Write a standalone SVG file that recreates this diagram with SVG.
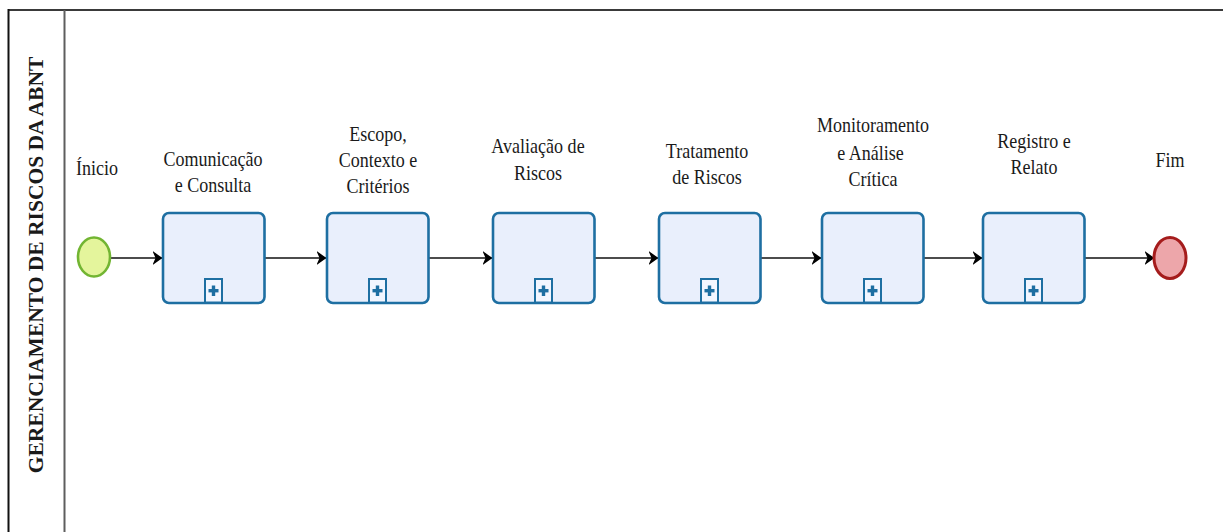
<svg xmlns="http://www.w3.org/2000/svg" width="1223" height="532" viewBox="0 0 1223 532">
  <style>
    .lbl { font-family: "Liberation Serif", "Times New Roman", serif; font-size: 22px; fill: #1a1a1a; text-anchor: middle; }
    .title { font-family: "Liberation Serif", "Times New Roman", serif; font-size: 21.5px; font-weight: bold; fill: #1a1a1a; text-anchor: middle; }
    .task { fill: #e9effc; stroke: #1e6fa2; stroke-width: 2.6; }
    .mk { fill: #f2f6ff; stroke: #1e6fa2; stroke-width: 2; }
    .plus { fill: #1e6fa2; }
    .flow { fill: none; stroke: #111; stroke-width: 1.6; marker-end: url(#arrow); }
  </style>
  <defs>
    <marker id="arrow" viewBox="0 0 10 14" refX="9.5" refY="7" markerWidth="10" markerHeight="14" markerUnits="userSpaceOnUse" orient="auto">
      <path d="M0,0 L10,7 L0,14 L3,7 Z" fill="#000"/>
    </marker>
    <g id="collapsed">
      <rect class="mk" x="-8.5" y="279" width="17" height="23.5"/>
      <rect class="plus" x="-1.7" y="285.5" width="3.4" height="10.5"/>
      <rect class="plus" x="-5" y="289" width="10" height="3.4"/>
    </g>
  </defs>

  <rect width="1223" height="532" fill="#ffffff"/>

  <!-- pool frame -->
  <g id="pool">
    <line x1="8" y1="10" x2="1223" y2="10" stroke="#3a3a3a" stroke-width="2"/>
    <line x1="8.5" y1="9" x2="8.5" y2="532" stroke="#111" stroke-width="2"/>
    <line x1="64.5" y1="10" x2="64.5" y2="532" stroke="#5e5e5e" stroke-width="2"/>
    <text class="title" transform="translate(43,265) rotate(-90)">GERENCIAMENTO DE RISCOS DA ABNT</text>
  </g>

  <!-- sequence flows -->
  <g id="connectors">
    <path class="flow" d="M110,258 H162"/>
    <path class="flow" d="M265,258 H326"/>
    <path class="flow" d="M429,258 H492"/>
    <path class="flow" d="M595,258 H658"/>
    <path class="flow" d="M761,258 H821"/>
    <path class="flow" d="M924,258 H982"/>
    <path class="flow" d="M1085,258 H1154"/>
  </g>

  <g id="start">
    <ellipse cx="94" cy="257" rx="16" ry="19.5" fill="#e4f59c" stroke="#72b532" stroke-width="2.6"/>
    <text class="lbl" transform="matrix(0.82 0 0 1 97 0)"><tspan x="0" y="175">Ínicio</tspan></text>
  </g>

  <g id="task-comunicacao">
    <rect class="task" x="163" y="213" width="101.5" height="90" rx="6"/>
    <use href="#collapsed" x="213.5"/>
    <text class="lbl" transform="matrix(0.82 0 0 1 213 0)"><tspan x="0" y="166">Comunicação</tspan><tspan x="0" y="192">e Consulta</tspan></text>
  </g>

  <g id="task-escopo">
    <rect class="task" x="327" y="213" width="101.5" height="90" rx="6"/>
    <use href="#collapsed" x="377.5"/>
    <text class="lbl" transform="matrix(0.82 0 0 1 378 0)"><tspan x="0" y="141.5">Escopo,</tspan><tspan x="0" y="167">Contexto e</tspan><tspan x="0" y="193">Critérios</tspan></text>
  </g>

  <g id="task-avaliacao">
    <rect class="task" x="493" y="213" width="101.5" height="90" rx="6"/>
    <use href="#collapsed" x="543.5"/>
    <text class="lbl" transform="matrix(0.82 0 0 1 538 0)"><tspan x="0" y="153.5">Avaliação de</tspan><tspan x="0" y="180">Riscos</tspan></text>
  </g>

  <g id="task-tratamento">
    <rect class="task" x="659" y="213" width="101.5" height="90" rx="6"/>
    <use href="#collapsed" x="709.5"/>
    <text class="lbl" transform="matrix(0.82 0 0 1 707 0)"><tspan x="0" y="158">Tratamento</tspan><tspan x="0" y="184.5">de Riscos</tspan></text>
  </g>

  <g id="task-monitoramento">
    <rect class="task" x="822" y="213" width="101.5" height="90" rx="6"/>
    <use href="#collapsed" x="872.5"/>
    <text class="lbl" transform="matrix(0.82 0 0 1 873 0)"><tspan x="0" y="132.5">Monitoramento</tspan><tspan x="-3" y="160">e Análise</tspan><tspan x="0" y="186.5">Crítica</tspan></text>
  </g>

  <g id="task-registro">
    <rect class="task" x="983" y="213" width="101.5" height="90" rx="6"/>
    <use href="#collapsed" x="1033.5"/>
    <text class="lbl" transform="matrix(0.82 0 0 1 1034 0)"><tspan x="0" y="148">Registro e</tspan><tspan x="0" y="174">Relato</tspan></text>
  </g>

  <g id="end">
    <ellipse cx="1170" cy="258" rx="16" ry="20.5" fill="#eda6aa" stroke="#a51c1c" stroke-width="3"/>
    <text class="lbl" transform="matrix(0.82 0 0 1 1170 0)"><tspan x="0" y="167">Fim</tspan></text>
  </g>
</svg>
